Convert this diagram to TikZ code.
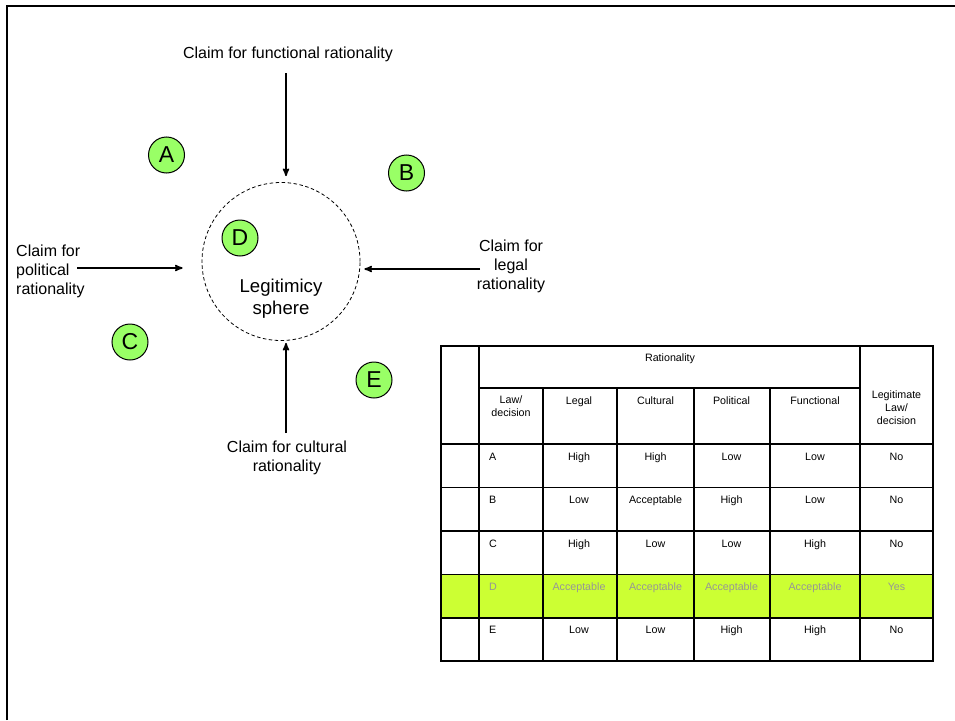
\documentclass[tikz,border=0pt]{standalone}
\usepackage{fontspec}
\setmainfont{Liberation Sans}
\usetikzlibrary{arrows}

\definecolor{lettergreen}{RGB}{153,255,102}
\definecolor{rowgreen}{RGB}{204,255,51}
\definecolor{dimtext}{RGB}{150,150,150}

\tikzset{
 claim/.style={font=\fontsize{16}{19}\selectfont, align=center, inner sep=0},
 letter/.style={circle, draw=black, line width=1, fill=lettergreen, minimum size=36, inner sep=0, font=\fontsize{23}{23}\selectfont},
 cell/.style={font=\fontsize{10.7}{13}\selectfont, align=center, inner sep=0, anchor=base},
 push/.style={black, line width=1.6, ->, >=stealth'},
}

\begin{document}
\begin{tikzpicture} [x=1pt,y=-1pt]
\useasboundingbox (0,0) rectangle (955,720);
\draw[line width=2.6] (7,720) -- (7,6) -- (955,6);

% sphere and claims
\node[circle, draw, line width=.8, dash pattern=on 3.5pt off 2.5pt, minimum size=158] (sphere) at (281,261.5) {};
\node[font=\fontsize{18.6}{22}\selectfont, align=center, inner sep=0] (spheretext) at (281,299) {Legitimicy\\sphere};
\node[claim] (functional) at (288,54) {Claim for functional rationality};
\node[claim, align=left, anchor=west] (political) at (16,271) {Claim for\\political\\rationality};
\node[claim] (legal) at (511,266.5) {Claim for\\legal\\rationality};
\node[claim] (cultural) at (287,457.5) {Claim for cultural\\rationality};

\coordinate (funcstart) at (286,73);
\coordinate (polstart) at (77,268);
\coordinate (legstart) at (480,269);
\coordinate (culstart) at (286,433);
\draw[push, shorten >=6] (funcstart) -- (funcstart |- sphere.north);
\draw[push, shorten >=19] (polstart) -- (polstart -| sphere.west);
\draw[push, shorten >=4] (legstart) -- (legstart -| sphere.east);
\draw[push, shorten >=2] (culstart) -- (culstart |- sphere.south);

\node[letter] (A) at (166.5,155) {A};
\node[letter] (B) at (406.5,173) {B};
\node[letter] (C) at (130,342) {C};
\node[letter] (D) at (240,238) {D};
\node[letter] (E) at (374,380) {E};

% table
\fill[rowgreen] (441,574.5) rectangle (933,618);
\begin{scope}[line width=1.1]
\draw (441,346) rectangle (933,661);
\foreach \y in {444,487.5,531,574.5,618} {
 \draw (441,\y) -- (933,\y);
}
\draw (479,388) -- (860,388);
\foreach \x in {479,860} {
 \draw (\x,346) -- (\x,661);
}
\foreach \x in {543,617,694,770} {
 \draw (\x,388) -- (\x,661);
}
\end{scope}

\node[cell] (rationality) at (670,361) {Rationality};
\node[cell, anchor=center] (lawhead) at (511,406.5) {Law/\\decision};
\foreach \x/\t in {579/Legal, 655.5/Cultural, 731.5/Political, 815/Functional} {
 \node[cell] (head-\t) at (\x,404) {\t};
}
\node[cell, anchor=center] (legithead) at (896.5,408) {Legitimate\\Law/\\decision};

\foreach \r/\y/\a/\b/\c/\d/\v in {A/456/High/High/Low/Low/No, B/499.5/Low/Acceptable/High/Low/No, C/543/High/Low/Low/High/No, E/629.5/Low/Low/High/High/No} {
 \node[cell, anchor=base west] (row-\r) at (489,\y+4) {\r};
 \node[cell] (legal-\r) at (579,\y+4) {\a};
 \node[cell] (cultural-\r) at (655.5,\y+4) {\b};
 \node[cell] (political-\r) at (731.5,\y+4) {\c};
 \node[cell] (functional-\r) at (815,\y+4) {\d};
 \node[cell] (legit-\r) at (896.5,\y+4) {\v};
}
\begin{scope}[dimtext]
\node[cell, anchor=base west] (row-D) at (489,590.5) {D};
\foreach \x/\t in {579/legal, 655.5/cultural, 731.5/political, 815/functional} {
 \node[cell] (\t-D) at (\x,590.5) {Acceptable};
}
\node[cell] (legit-D) at (896.5,590.5) {Yes};
\end{scope}
\end{tikzpicture}
\end{document}
